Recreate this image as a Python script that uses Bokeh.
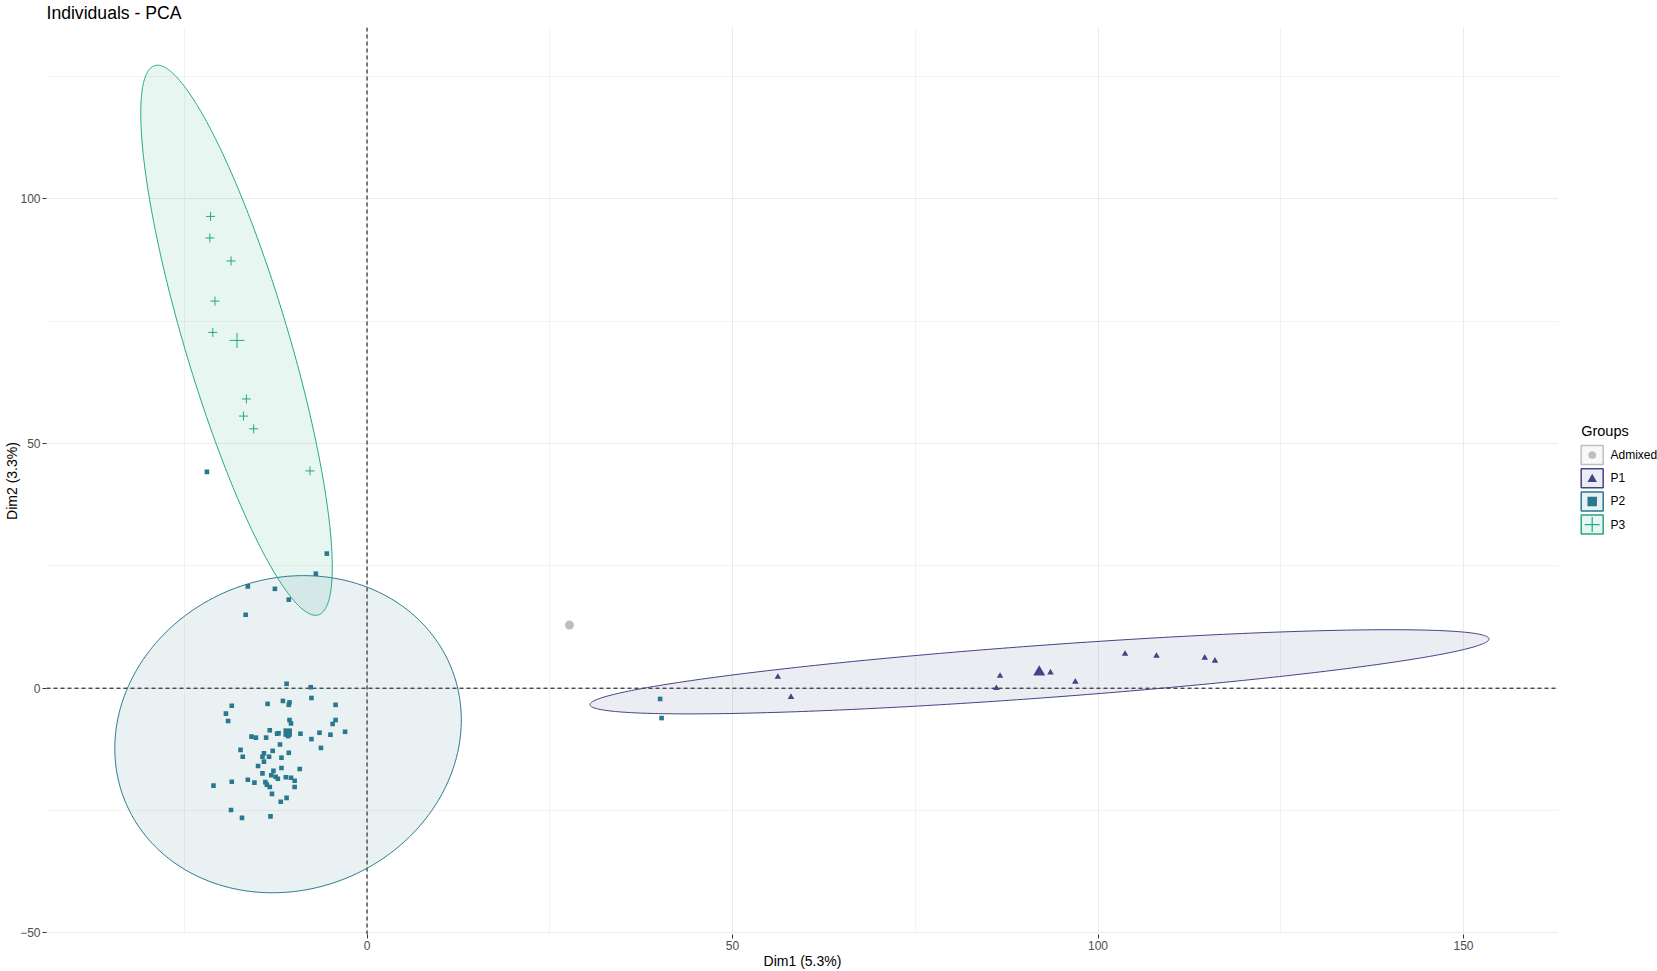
import numpy as np
from bokeh.plotting import figure
from bokeh.layouts import row
from bokeh.models import Range1d, FixedTicker, Span
from bokeh.core.properties import value
from bokeh.embed import file_html
from bokeh.resources import INLINE

# ---------------- texts ----------------
TITLE = "Individuals - PCA"
X_LABEL = "Dim1 (5.3%)"
Y_LABEL = "Dim2 (3.3%)"
LEGEND_TITLE = "Groups"

# ---------------- groups ----------------
groups = ["Admixed", "P1", "P2", "P3"]
group_colors = ["#BEBEBE", "#414487", "#2A788E", "#22A884"]
group_markers = ["circle", "triangle", "square", "cross"]

# ---------------- individuals (Dim1, Dim2) ----------------
admixed_x = [27.7]
admixed_y = [12.9]

p1_x = [56.2, 58.0, 86.6, 86.1, 93.5, 96.9, 103.7, 108.0, 114.6, 116.0]
p1_y = [2.3, -1.8, 2.5, 0.0, 3.2, 1.3, 7.0, 6.6, 6.2, 5.6]

p2_x = [-21.9, -5.5, -7.0, -16.3, -12.6, -10.7, -16.6,
        40.1, 40.3,
        -11.0, -7.7, -7.6, -18.5, -13.6, -11.5, -10.6, -10.7, -4.3, -19.3,
        -19.0, -10.6, -10.4, -4.3, -4.7, -13.3, -12.3, -12.1, -10.8, -9.1,
        -6.5, -5.0, -3.0, -15.8, -15.2, -13.8, -7.6, -11.9, -6.3, -17.3,
        -12.9, -14.1, -10.7, -17.0, -14.3, -13.4, -11.7, -14.1, -14.9, -11.7,
        -9.2, -14.3, -12.8, -13.1, -12.5, -12.2, -11.1, -10.4, -9.9, -16.3,
        -18.5, -15.4, -13.9, -13.7, -13.3, -21.0, -9.9, -13.0, -11.0, -11.8,
        -18.6, -17.1, -13.2]
p2_y = [44.2, 27.5, 23.4, 20.8, 20.3, 18.1, 15.0,
        -2.2, -6.1,
        0.9, 0.2, -2.0, -3.6, -3.2, -2.6, -2.9, -3.4, -3.4, -5.2,
        -6.7, -6.5, -7.2, -6.5, -7.3, -8.6, -9.3, -9.2, -9.8, -9.3,
        -9.1, -9.5, -8.9, -9.9, -10.1, -10.1, -10.4, -11.5, -12.2, -12.6,
        -12.8, -13.3, -13.2, -14.0, -14.0, -14.0, -14.2, -15.0, -15.9, -16.3,
        -16.5, -17.4, -16.9, -17.8, -18.1, -18.5, -18.2, -18.3, -18.9, -18.7,
        -19.1, -19.3, -19.2, -19.7, -20.2, -19.9, -20.2, -21.6, -22.4, -23.2,
        -24.9, -26.5, -26.2]

p3_x = [-21.4, -21.5, -18.6, -20.8, -21.1, -16.5, -16.9, -15.5, -7.8]
p3_y = [96.4, 92.0, 87.3, 79.1, 72.7, 59.1, 55.6, 53.0, 44.4]

# ---------------- concentration ellipses ----------------
ell_groups = ["P1", "P2", "P3"]
ell_cx = [92.0, -10.8, -17.85]
ell_cy = [3.35, -9.4, 71.1]
ell_half_x = [61.5, 23.7, 13.1]    # half extent along Dim1
ell_half_y = [8.6, 32.4, 56.2]     # half extent along Dim2
ell_rho = [0.78, 0.09, -0.825]     # correlation (tilt)

# ---------------- ticks ----------------
x_ticks = [0, 50, 100, 150]
x_minor = [-25, 25, 75, 125]
y_ticks = [-50, 0, 50, 100]
y_minor = [-25, 25, 75, 125]

# ---------------- layout ----------------
W_TOTAL, H = 1657, 971
LEG_W = 99
W = W_TOTAL - LEG_W
ML, MR, MT, MB = 46, 0, 27, 37
X0_PX, X_PX = 366.5, 7.31      # screen x of Dim1 = 0, pixels per unit
Y0_PX, Y_PX = 687.7, 4.894     # screen y of Dim2 = 0, pixels per unit
x_start = (ML - X0_PX) / X_PX
x_end = (W - MR - X0_PX) / X_PX
y_end = (Y0_PX - MT) / Y_PX
y_start = (Y0_PX - (H - MB)) / Y_PX

FONT = "Liberation Sans"

p = figure(width=W, height=H, x_range=Range1d(x_start, x_end),
           y_range=Range1d(y_start, y_end), output_backend="svg",
           toolbar_location=None, title=TITLE,
           x_axis_label=X_LABEL, y_axis_label=Y_LABEL,
           min_border_left=ML, min_border_right=MR,
           min_border_top=MT, min_border_bottom=MB)
p.outline_line_color = None
p.background_fill_color = "white"
p.border_fill_color = "white"

p.title.text_font = FONT
p.title.text_font_size = "17.6px"
p.title.text_font_style = "normal"
p.title.text_color = "black"
p.title.align = "left"
p.title.vertical_align = "top"
try:
    p.title.standoff = 5
except Exception:
    pass

p.xaxis.ticker = FixedTicker(ticks=x_ticks, minor_ticks=x_minor)
p.yaxis.ticker = FixedTicker(ticks=y_ticks, minor_ticks=y_minor)
for ax in (p.xaxis[0], p.yaxis[0]):
    ax.axis_line_color = None
    ax.major_tick_line_color = "#333333"
    ax.major_tick_out = 4
    ax.major_tick_in = 0
    ax.minor_tick_line_color = None
    ax.minor_tick_out = 0
    ax.minor_tick_in = 0
    ax.major_label_text_font = FONT
    ax.major_label_text_font_size = "12px"
    ax.major_label_text_color = "#4D4D4D"
    ax.axis_label_text_font = FONT
    ax.axis_label_text_font_size = "14px"
    ax.axis_label_text_font_style = "normal"
    ax.axis_label_text_color = "black"
p.xaxis.major_label_standoff = 2
p.xaxis.axis_label_standoff = 0
p.yaxis.major_label_standoff = 2
p.yaxis.axis_label_standoff = -3

for g in (p.xgrid[0], p.ygrid[0]):
    g.grid_line_color = "#EBEBEB"
    g.grid_line_width = 1
    g.minor_grid_line_color = "#EBEBEB"
    g.minor_grid_line_width = 0.6

# dashed axes through the origin
p.add_layout(Span(location=0, dimension="height", line_color="black",
                  line_dash="4 3", line_width=1, level="underlay"))
p.add_layout(Span(location=0, dimension="width", line_color="black",
                  line_dash="4 3", line_width=1, level="underlay"))

color_of = dict(zip(groups, group_colors))

# ellipses
t = np.linspace(0, 2 * np.pi, 400)
for g, cx, cy, hx, hy, rho in zip(ell_groups, ell_cx, ell_cy, ell_half_x, ell_half_y, ell_rho):
    ex = cx + hx * np.cos(t)
    ey = cy + hy * (rho * np.cos(t) + np.sqrt(1 - rho ** 2) * np.sin(t))
    c = color_of[g]
    p.patch(ex, ey, fill_color=c, fill_alpha=0.1, line_color=c, line_width=1)

# individuals
p.scatter(admixed_x, admixed_y, marker="circle", size=5,
          fill_color=color_of["Admixed"], line_color=None)
p.scatter(p1_x, p1_y, marker="triangle", size=6.5,
          fill_color=color_of["P1"], line_color=None)
p.scatter(p2_x, p2_y, marker="square", size=4.6,
          fill_color=color_of["P2"], line_color=None)
p.scatter(p3_x, p3_y, marker="cross", size=9,
          line_color=color_of["P3"], line_width=1)

# group centroids (group means)
p.scatter([np.mean(admixed_x)], [np.mean(admixed_y)], marker="circle", size=9,
          fill_color=color_of["Admixed"], line_color=None)
p.scatter([np.mean(p1_x)], [np.mean(p1_y)], marker="triangle", size=12,
          fill_color=color_of["P1"], line_color=None)
p.scatter([np.mean(p2_x)], [np.mean(p2_y)], marker="square", size=8.5,
          fill_color=color_of["P2"], line_color=None)
p.scatter([np.mean(p3_x)], [np.mean(p3_y)], marker="cross", size=15,
          line_color=color_of["P3"], line_width=1)

# ---------------- legend panel (pixel coordinates, y downwards) ----------------
# the row layout aligns this panel's frame with the main frame (MT .. H-MB)
leg = figure(width=LEG_W, height=H, x_range=Range1d(0, LEG_W),
             y_range=Range1d(H - MB, MT),
             output_backend="svg", toolbar_location=None,
             x_axis_location=None, y_axis_location=None,
             min_border_left=0, min_border_right=0,
             min_border_top=MT, min_border_bottom=MB)
leg.outline_line_color = None
leg.background_fill_color = "white"
leg.border_fill_color = "white"
leg.xgrid.visible = False
leg.ygrid.visible = False

KEY_X0, KEY_W, KEY_H = 22.7, 22, 19
KEY_Y0, KEY_STEP = 454.5, 23.2
key_cx = KEY_X0 + KEY_W / 2
key_cy = [KEY_Y0 + KEY_STEP * i for i in range(len(groups))]
key_marker_size = [7.7, 9.5, 9.5, 15]
key_marker_dy = [0, 1, 0, 0]

leg.text(x=[KEY_X0], y=[430], text=[LEGEND_TITLE], text_font=value(FONT),
         text_font_size="14.5px", text_color="black", text_baseline="middle",
         text_align="left")
leg.rect(x=[key_cx] * len(groups), y=key_cy, width=KEY_W, height=KEY_H,
         fill_color=group_colors, fill_alpha=0.1, line_color=group_colors,
         line_width=1.5)
for g, c, m, s, dy, cy in zip(groups, group_colors, group_markers,
                              key_marker_size, key_marker_dy, key_cy):
    if m == "cross":
        leg.scatter([key_cx], [cy + dy], marker=m, size=s, line_color=c, line_width=1.2)
    else:
        leg.scatter([key_cx], [cy + dy], marker=m, size=s, fill_color=c, line_color=None)
leg.text(x=[KEY_X0 + KEY_W + 7.3] * len(groups), y=key_cy, text=groups,
         text_font=value(FONT), text_font_size="12px", text_color="black",
         text_baseline="middle", text_align="left")

layout = row(p, leg)
open("out.html", "w").write(file_html(layout, INLINE))
